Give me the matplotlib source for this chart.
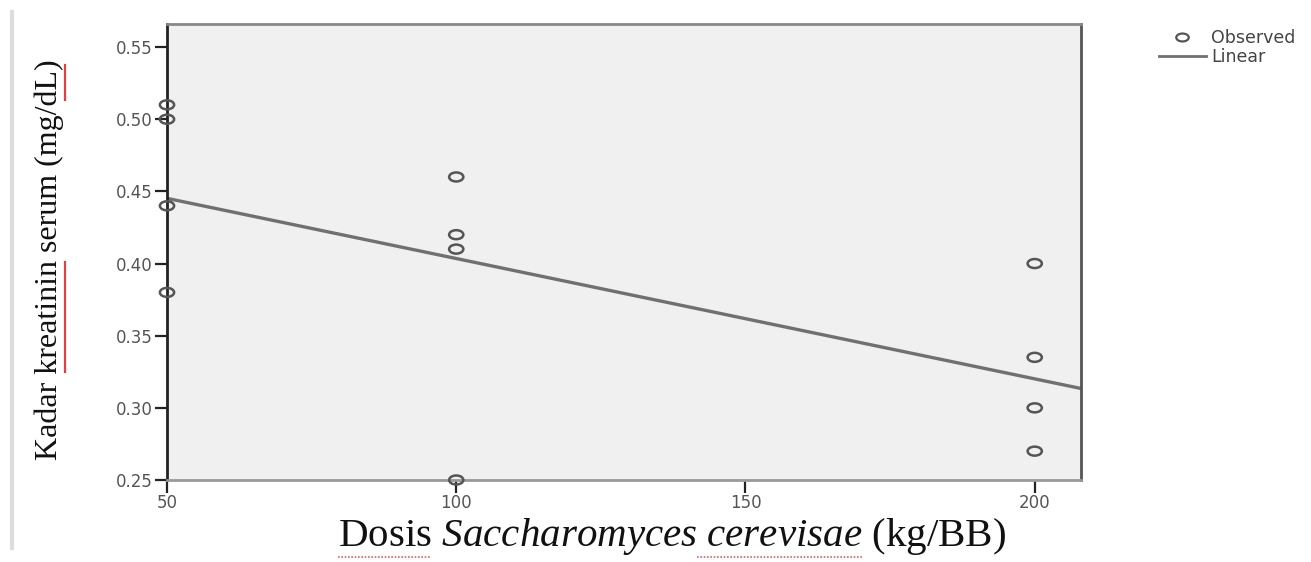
import numpy as np
import matplotlib
matplotlib.use("Agg")
import matplotlib.pyplot as plt
from matplotlib.path import Path
from matplotlib.lines import Line2D

# data
dose = [50, 50, 50, 50, 100, 100, 100, 100, 200, 200, 200, 200]
kreatinin = [0.51, 0.50, 0.44, 0.38, 0.46, 0.42, 0.41, 0.25, 0.40, 0.335, 0.30, 0.27]
yticks = [0.25, 0.30, 0.35, 0.40, 0.45, 0.50, 0.55]
xticks = [50, 100, 150, 200]

plt.rcParams['mathtext.fontset'] = 'custom'
plt.rcParams['mathtext.rm'] = 'Liberation Serif'
plt.rcParams['mathtext.it'] = 'Liberation Serif:italic'

W, H = 1311, 562

# SPSS-style flattened circle marker
circ = Path.unit_circle()
ellipse = Path(circ.vertices * np.array([1.5, 0.95]), circ.codes)

fig = plt.figure(figsize=(W / 100, H / 100), dpi=100)
ax = fig.add_axes([167 / W, 1 - 480 / H, (1081 - 167) / W, (480 - 24) / H])
ax.set_facecolor('#f0f0f0')

ax.scatter(dose, kreatinin, marker=ellipse, s=105, facecolors='none',
           edgecolors='#555555', linewidths=1.8, zorder=3, clip_on=False)

# linear fit line
slope, icpt = np.polyfit(dose, kreatinin, 1)
xs = np.array([50, 208])
ax.plot(xs, icpt + slope * xs, color='#707070', lw=2.4, zorder=2)

ax.set_xlim(50, 208)
ax.set_ylim(0.25, 0.566)
ax.set_xticks(xticks)
ax.set_yticks(yticks)
ax.set_yticklabels([f'{v:.2f}' for v in yticks])
ax.tick_params(direction='out', length=9, width=1.6, color='#222222',
               labelsize=12, labelcolor='#555555', pad=1)
for lab in ax.get_xticklabels() + ax.get_yticklabels():
    lab.set_fontfamily('DejaVu Sans')

for side in ['left', 'right', 'top', 'bottom']:
    ax.spines[side].set_linewidth(2)
ax.spines['left'].set_color('#222222')
ax.spines['right'].set_color('#555555')
ax.spines['top'].set_color('#888888')
ax.spines['bottom'].set_color('#999999')

ax.set_ylabel('Kadar kreatinin serum (mg/dL)', family='Liberation Serif',
              fontsize=23, color='#111111')
ax.yaxis.set_label_coords((64 - 167) / 914, (480 - 260) / 456)
xlab = ax.set_xlabel(r'Dosis $\mathit{Saccharomyces\ cerevisae}$ (kg/BB)',
                     family='Liberation Serif', fontsize=29.5, color='#111111')
ax.xaxis.set_label_coords((672 - 167) / 914, (480 - 516) / 456)

# faint page border on the left
fig.add_artist(Line2D([12 / W, 12 / W], [1 - 12 / H, 1 - 548 / H],
                      color='#dddddd', lw=3))

# spell-check underlines as on the source screenshot
for y0, y1 in [(65, 100), (262, 372)]:
    fig.add_artist(Line2D([65 / W, 65 / W], [1 - y0 / H, 1 - y1 / H],
                          color='#e04040', lw=1.6))

fig.canvas.draw()
rend = fig.canvas.get_renderer()
lab_box = xlab.get_window_extent(rend)


def text_width(s):
    t = fig.text(0, 0, s, family='Liberation Serif', fontsize=29.5)
    w = t.get_window_extent(rend).width
    t.remove()
    return w


x_start = lab_box.x0
pieces = [(r'', r'Dosis'),
          (r'Dosis $\mathit{Saccharomyces\ }$', r'Dosis $\mathit{Saccharomyces\ cerevisae}$')]
for a, b in pieces:
    xa = x_start + (text_width(a) if a else 0)
    xb = x_start + text_width(b)
    fig.add_artist(Line2D([xa / W, xb / W], [1 - 557 / H, 1 - 557 / H],
                          color='#e06060', lw=1.2, ls=(0, (1, 1))))

handles = [Line2D([], [], marker=ellipse, ls='none', markerfacecolor='none',
                  markeredgecolor='#555555', markersize=9, markeredgewidth=1.6),
           Line2D([], [], color='#707070', lw=2)]
leg = fig.legend(handles, ['Observed', 'Linear'], loc='upper left',
                 bbox_to_anchor=(1152 / W, 1 - 22 / H), frameon=False,
                 prop={'family': 'DejaVu Sans', 'size': 12.5},
                 handlelength=2.7, handletextpad=0.3, labelspacing=0.05,
                 borderaxespad=0)
for t in leg.get_texts():
    t.set_color('#444444')

fig.savefig('out.png', dpi=100, facecolor='white')
